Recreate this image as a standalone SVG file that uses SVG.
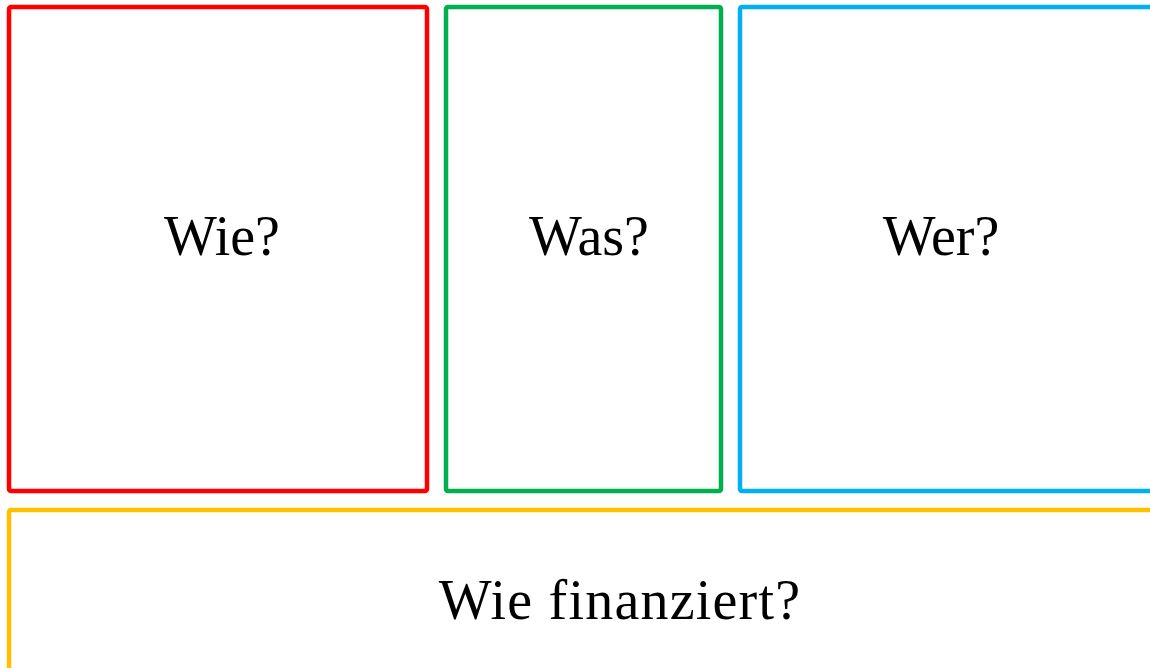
<svg xmlns="http://www.w3.org/2000/svg" width="1150" height="668" viewBox="0 0 1150 668">
<style>
.box{fill:none;stroke-width:4.5;stroke-linejoin:round}
.lbl{font-family:"Liberation Serif","DejaVu Serif",serif;font-size:56px;fill:#000;text-anchor:middle}
</style>
<rect width="1150" height="668" fill="#fff"/>
<g id="wie">
<rect class="box" x="9" y="7" width="418" height="484" rx="2" stroke="#ff0000"/>
<text class="lbl" x="222" y="255">Wie?</text>
</g>
<g id="was">
<rect class="box" x="446" y="7" width="275" height="484" rx="2" stroke="#00b050"/>
<text class="lbl" x="589" y="255">Was?</text>
</g>
<g id="wer">
<rect class="box" x="740" y="7" width="430" height="484" rx="2" stroke="#00b0f0"/>
<text class="lbl" x="941" y="255">Wer?</text>
</g>
<g id="finanziert">
<rect class="box" x="9" y="510" width="1160" height="200" rx="2" stroke="#ffc000"/>
<text class="lbl" x="620" y="619" letter-spacing="1.2">Wie finanziert?</text>
</g>
<g id="connectors"></g>
</svg>
